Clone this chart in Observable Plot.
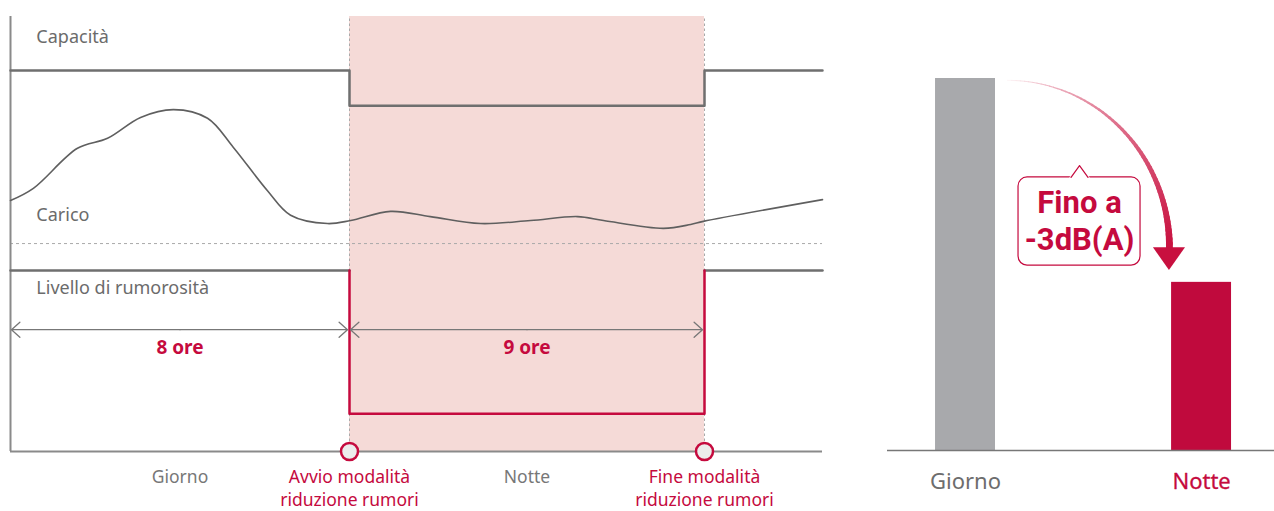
<!DOCTYPE html>
<html><head><meta charset="utf-8">
<script src="https://cdn.jsdelivr.net/npm/d3@7"></script>
<script src="https://cdn.jsdelivr.net/npm/@observablehq/plot@0.6"></script>
<style>
html,body{margin:0;padding:0;background:#fff;}
#wrap{position:relative;width:1274px;height:511px;overflow:hidden;}
#left{position:absolute;left:0;top:0;}
#right{position:absolute;left:870px;top:0;}
</style></head><body><div id="wrap"><div id="left"></div><div id="right"></div></div>
<script>
// ---------- data: left panel (time in hours) ----------
const phaseBounds = [0, 8, 17, 20];
const capacityLevels = [87.6, 79.5, 87.6, 87.6];
const loadHours  = [0, 0.54, 1.58, 2.29, 3.07, 3.85, 4.65, 5.26, 6.06, 6.61, 7.48, 8.03, 9.04, 10.05, 11.32, 12.59, 13.78, 14.44, 15.96, 16.65, 16.97, 20];
const loadValues = [57.7, 60.5, 69.7, 72.0, 76.8, 78.6, 76.6, 69.9, 60.0, 54.3, 52.4, 53.1, 55.2, 54.0, 52.4, 53.1, 54.0, 53.1, 51.3, 52.2, 52.9, 57.9];
const loadThreshold = 47.8;
const noiseDay = 41.6;
const noiseNight = 8.7;
const durationArrowLevel = 28;
const durationStarts = [0, 8];
const durationEnds = [8, 17];
const durationLabels = ["8 ore", "9 ore"];
const seriesNames = ["Capacità", "Carico", "Livello di rumorosità"];
const seriesNameLevels = [95.2, 54.3, 37.5];
const phaseNames = ["Giorno", "Avvio modalità\nriduzione rumori", "Notte", "Fine modalità\nriduzione rumori"];
const phaseNameHours = [4, 8, 12.5, 17];
const phaseNameAccent = [false, true, false, true];

// ---------- data: right panel ----------
const barCategories = ["Giorno", "Notte"];
const barValues = [100, 45.2];
const calloutLines = ["Fino a", "-3dB(A)"];

const RED = "#c50a3e";
const GRAY_LINE = "#6f6f6f";
const GRAY_AXIS = "#8a8a8a";
const GRAY_TEXT = "#6b6b6b";
const FONT = "'Noto Sans', 'Open Sans', sans-serif";

// ---------- left chart ----------
const capacity = phaseBounds.map((h, i) => ({h, v: capacityLevels[i]}));
const load = loadHours.map((h, i) => ({h, v: loadValues[i]}));
const night = [{h1: phaseBounds[1], h2: phaseBounds[2]}];
const noiseGray = [
  {h: phaseBounds[0], v: noiseDay, s: "a"}, {h: phaseBounds[1], v: noiseDay, s: "a"},
  {h: phaseBounds[2], v: noiseDay, s: "b"}, {h: phaseBounds[3], v: noiseDay, s: "b"}
];
const noiseRed = [
  {h: phaseBounds[1], v: noiseDay}, {h: phaseBounds[1], v: noiseNight},
  {h: phaseBounds[2], v: noiseNight}, {h: phaseBounds[2], v: noiseDay}
];
const durations = durationStarts.map((s, i) => ({s, e: durationEnds[i], m: (s + durationEnds[i]) / 2, label: durationLabels[i]}));
const seriesLabelData = seriesNames.map((t, i) => ({t, v: seriesNameLevels[i]}));
const phaseLabelData = phaseNames.map((t, i) => ({t, h: phaseNameHours[i], accent: phaseNameAccent[i]}));
const switchPoints = [phaseBounds[1], phaseBounds[2]];

const left = Plot.plot({
  width: 860, height: 511,
  marginLeft: 10, marginRight: 38, marginTop: 16, marginBottom: 60,
  x: {type: "linear", domain: phaseBounds, range: [10, 349, 704, 822], axis: null},
  y: {domain: [0, 100], range: [451, 16], axis: null},
  color: {type: "identity"},
  style: {fontFamily: FONT, background: "white", overflow: "visible"},
  marks: [
    Plot.rect(night, {x1: "h1", x2: "h2", y1: 0, y2: 100, fill: "#f5dad7"}),
    Plot.ruleX(switchPoints, {y1: 0, y2: 100, stroke: "#a9a9a9", strokeWidth: 1, strokeDasharray: "2.5,2.5"}),
    Plot.ruleY([loadThreshold], {x1: 0, x2: 20, stroke: "#a9a9a9", strokeWidth: 1, strokeDasharray: "3,3"}),
    Plot.ruleX([0], {y1: 0, y2: 100, stroke: GRAY_AXIS, strokeWidth: 2}),
    Plot.ruleY([0], {x1: 0, x2: 20, stroke: GRAY_AXIS, strokeWidth: 2}),
    Plot.line(capacity, {x: "h", y: "v", curve: "step-after", stroke: GRAY_LINE, strokeWidth: 2.5}),
    Plot.line(load, {x: "h", y: "v", curve: "catmull-rom", stroke: "#5f5f5f", strokeWidth: 1.6}),
    Plot.line(noiseGray, {x: "h", y: "v", z: "s", stroke: GRAY_LINE, strokeWidth: 2.5}),
    Plot.line(noiseRed, {x: "h", y: "v", stroke: RED, strokeWidth: 2.5}),
    Plot.arrow(durations, {x1: "m", x2: "s", y1: durationArrowLevel, y2: durationArrowLevel, stroke: "#777", strokeWidth: 1.3, headAngle: 84, headLength: 13, insetEnd: 1}),
    Plot.arrow(durations, {x1: "m", x2: "e", y1: durationArrowLevel, y2: durationArrowLevel, stroke: "#777", strokeWidth: 1.3, headAngle: 84, headLength: 13, insetEnd: 2}),
    Plot.text(durations, {x: "m", y: durationArrowLevel, text: "label", dy: 18, fill: RED, fontWeight: "bold", fontSize: 19}),
    Plot.text(seriesLabelData, {x: 0.61, y: "v", text: "t", textAnchor: "start", fill: GRAY_TEXT, fontSize: 18}),
    Plot.text(phaseLabelData, {x: "h", y: 0, text: "t", lineAnchor: "top", dy: 14, lineHeight: 1.37,
      fill: d => d.accent ? RED : "#777", fontSize: 17.5}),
    Plot.dot(switchPoints, {x: d => d, y: 0, r: 8.5, fill: "#ececec", stroke: RED, strokeWidth: 2.5})
  ]
});
document.getElementById("left").append(left);

// ---------- right chart ----------
const HALF = 0.127;
const bars = barCategories.map((c, i) => ({c, i, v: barValues[i]}));
// arrow arc from the top of the day bar to just above the night bar
const arcStart = {x: 0.178, y: barValues[0] - 0.5};
const arcEnd = {x: 0.864, y: barValues[1] + 9.3};
const tip = {x: 0.864, y: barValues[1] + 3.2};
const N = 60;
const arcPts = d3.range(N + 1).map(k => {
  const t = (k / N) * Math.PI / 2;
  return {x: arcStart.x + (arcEnd.x - arcStart.x) * Math.sin(t), y: arcEnd.y + (arcStart.y - arcEnd.y) * Math.cos(t), k};
});
const colorAt = d3.interpolateRgb("#fbeef0", "#c8103f");
const segs = d3.range(N).map(k => ({
  x1: arcPts[k].x, y1: arcPts[k].y, x2: arcPts[k + 1].x, y2: arcPts[k + 1].y,
  c: colorAt(Math.pow(k / N, 0.75)), w: 0.6 + 6.4 * Math.pow(k / N, 1.3)
}));
const head = [
  {x: arcEnd.x - 0.068, y1: arcEnd.y, y2: arcEnd.y},
  {x: tip.x, y1: arcEnd.y, y2: tip.y},
  {x: arcEnd.x + 0.068, y1: arcEnd.y, y2: arcEnd.y}
];
const box = [{x1: 0.2246, x2: 0.7415, y1: 49.7, y2: 73.4}];
const caretX = 0.483;
const caret = [{x: caretX - 0.036, y: 73.4}, {x: caretX, y: 76.6}, {x: caretX + 0.036, y: 73.4}];
const calloutData = calloutLines.map((t, i) => ({t, y: [66.4, 56.5][i]}));

const right = Plot.plot({
  width: 404, height: 511,
  marginLeft: 17, marginRight: 0, marginTop: 3.6, marginBottom: 61,
  x: {domain: [-0.3305, 1.309], axis: null},
  y: {domain: [0, 120], range: [450, 3.6], axis: null},
  color: {type: "identity"},
  style: {fontFamily: FONT, background: "white", overflow: "visible"},
  marks: [
    Plot.rectY(bars, {x1: d => d.i - HALF, x2: d => d.i + HALF, y: "v", fill: d => d.i === 0 ? "#a8a9ac" : "#c00a3d"}),
    Plot.ruleY([0], {stroke: "#777", strokeWidth: 1.5}),
    Plot.link(segs, {x1: "x1", y1: "y1", x2: "x2", y2: "y2", stroke: "c", strokeWidth: "w", strokeLinecap: "round"}),
    Plot.areaY(head, {x: "x", y1: "y1", y2: "y2", fill: "#c8103f"}),
    Plot.rect(box, {x1: "x1", x2: "x2", y1: "y1", y2: "y2", rx: 9, fill: "white", stroke: RED, strokeWidth: 1.2}),
    Plot.line([caret[0], caret[2]], {x: "x", y: "y", stroke: "white", strokeWidth: 3}),
    Plot.line(caret, {x: "x", y: "y", stroke: RED, strokeWidth: 1.2}),
    Plot.text(calloutData, {x: caretX, y: "y", text: "t", fill: RED, fontWeight: "bold", fontSize: 31, fontFamily: "Roboto, 'Noto Sans', sans-serif"}),
    Plot.text(bars.slice(0, 1), {x: "i", y: 0, text: "c", dy: 31, fontSize: 22, fill: "#6d6d6d"}),
    Plot.text(bars.slice(1), {x: "i", y: 0, text: "c", dy: 31, fontSize: 22, fill: RED, stroke: RED, strokeWidth: 0.3})
  ]
});
document.getElementById("right").append(right);
</script></body></html>
